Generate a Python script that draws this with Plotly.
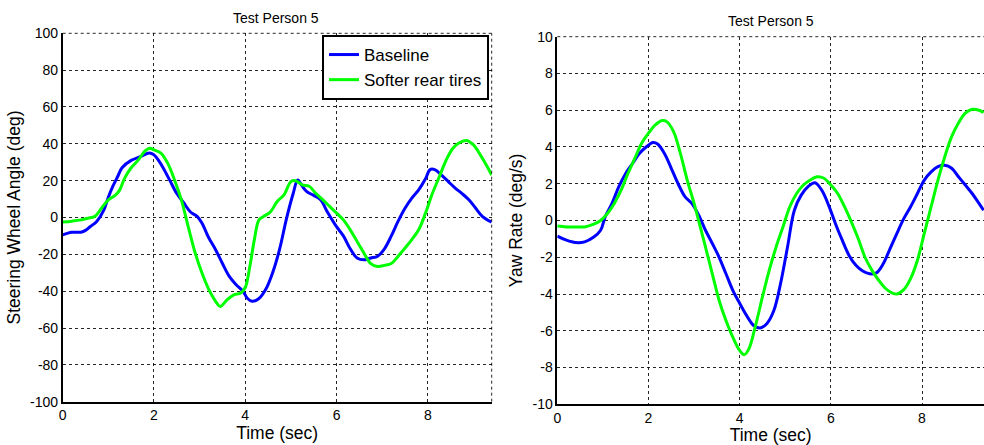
import plotly.graph_objects as go

# ---- data ----
t_sw_base = [0, 0.2, 0.4, 0.5, 0.6, 0.75, 0.9, 1.0, 1.1, 1.2, 1.3, 1.5, 1.7, 1.9, 2.0, 2.1, 2.2, 2.35, 2.5, 2.65,
             2.8, 2.95, 3.05, 3.2, 3.35, 3.5, 3.65, 3.8, 3.95, 4.05, 4.15, 4.3, 4.45, 4.6, 4.75, 4.9, 5.05, 5.15,
             5.25, 5.35, 5.5, 5.65, 5.8, 6.0, 6.15, 6.3, 6.45, 6.6, 6.75, 6.9, 7.05, 7.2, 7.35, 7.5, 7.65, 7.8,
             7.95, 8.05, 8.15, 8.3, 8.45, 8.6, 8.75, 8.9, 9.05, 9.2, 9.4]
sw_base = [-9.4, -8, -8, -7, -5, -2, 4, 11, 17, 22, 27, 31, 33, 35, 34, 31, 27, 20, 13, 8,
           3, 0.5, -3, -11, -17.5, -25, -32, -36.5, -40, -44, -45.5, -44, -39, -30, -17.5, -1, 13, 20.4,
           17, 14, 12, 9.6, 3, -5, -10, -17, -22, -23, -22, -21, -17, -10, -2, 5, 10.5, 15,
           21, 26, 26, 23, 19.5, 16, 13, 9.6, 5, 0.5, -2.5]

t_sw_soft = [0, 0.2, 0.4, 0.55, 0.7, 0.85, 1.0, 1.15, 1.25, 1.35, 1.5, 1.65, 1.8, 1.9, 2.0, 2.15, 2.3, 2.45,
             2.6, 2.75, 2.9, 3.05, 3.2, 3.35, 3.45, 3.6, 3.75, 3.9, 4.0, 4.1, 4.2, 4.3, 4.4, 4.55, 4.7, 4.85,
             5.0, 5.1, 5.25, 5.4, 5.55, 5.7, 5.85, 6.0, 6.15, 6.3, 6.45, 6.6, 6.75, 6.9, 7.05, 7.2, 7.35,
             7.5, 7.65, 7.8, 7.95, 8.1, 8.25, 8.4, 8.55, 8.7, 8.85, 9.0, 9.15, 9.3, 9.4]
sw_soft = [-2.5, -2, -1.3, -0.4, 0.5, 5, 9.6, 12, 15, 21, 27, 31, 36, 37.6, 36.7, 35, 29.5, 20.4,
           9.6, -5, -19, -30, -39, -45.5, -48.3, -44.7, -42, -41, -38, -26.6, -12, -1.3, 0.5, 3, 8.7, 12.3,
           19.5, 20, 17.7, 17, 13, 9.6, 6, 2.4, -1.3, -6.7, -13, -19.3, -25, -26.6, -26, -25, -21,
           -16.6, -12, -6.7, 2.4, 13, 22, 31, 37.6, 40.7, 41.8, 39.4, 34, 27.7, 23]

t_yr_base = [0, 0.2, 0.4, 0.6, 0.8, 0.95, 1.05, 1.2, 1.35, 1.5, 1.65, 1.8, 1.95, 2.1, 2.2, 2.35, 2.5, 2.65,
             2.8, 2.95, 3.1, 3.25, 3.4, 3.55, 3.7, 3.85, 4.0, 4.15, 4.3, 4.45, 4.6, 4.75, 4.9, 5.05, 5.2,
             5.35, 5.5, 5.65, 5.8, 5.95, 6.1, 6.25, 6.4, 6.55, 6.7, 6.85, 7.0, 7.15, 7.3, 7.45, 7.6, 7.75,
             7.9, 8.05, 8.2, 8.35, 8.5, 8.65, 8.8, 8.95, 9.1, 9.25, 9.35]
yr_base = [-0.85, -1.07, -1.2, -1.16, -0.9, -0.53, 0.2, 0.93, 1.84, 2.56, 3.1, 3.65, 4.0, 4.24, 4.16, 3.65,
           2.84, 2.0, 1.3, 0.93, 0.3, -0.53, -1.25, -2.0, -2.9, -3.8, -4.5, -5.16, -5.7, -5.85, -5.6, -4.9,
           -3.4, -1.44, 0.56, 1.38, 1.84, 2.05, 1.65, 0.84, -0.16, -1.07, -1.9, -2.44, -2.75, -2.9, -2.85,
           -2.35, -1.53, -0.7, 0.1, 0.75, 1.47, 2.2, 2.65, 2.93, 3.0, 2.84, 2.38, 1.93, 1.47, 0.93, 0.56]

t_yr_soft = [0, 0.2, 0.4, 0.6, 0.8, 0.95, 1.1, 1.25, 1.4, 1.55, 1.7, 1.85, 2.0, 2.15, 2.3, 2.4, 2.55, 2.7,
             2.85, 3.0, 3.1, 3.25, 3.4, 3.55, 3.7, 3.85, 4.0, 4.1, 4.2, 4.35, 4.5, 4.65, 4.8, 4.95, 5.1, 5.25,
             5.4, 5.55, 5.7, 5.85, 6.0, 6.15, 6.3, 6.45, 6.6, 6.75, 6.9, 7.05, 7.2, 7.35, 7.45, 7.6, 7.75,
             7.9, 8.05, 8.2, 8.35, 8.5, 8.65, 8.8, 8.95, 9.1, 9.25, 9.35]
yr_soft = [-0.3, -0.35, -0.35, -0.35, -0.2, 0, 0.38, 0.93, 1.65, 2.56, 3.38, 4.2, 4.75, 5.2, 5.44, 5.38,
           4.84, 3.65, 2.2, 0.93, 0, -1.44, -2.9, -4.35, -5.44, -6.35, -7.07, -7.3, -7.0, -5.7, -4.16, -2.7,
           -1.44, -0.35, 0.75, 1.47, 1.93, 2.2, 2.38, 2.3, 1.93, 1.47, 0.75, -0.07, -0.98, -2.0, -2.7, -3.25,
           -3.7, -3.95, -4.0, -3.76, -3.16, -2.16, -0.7, 0.75, 2.2, 3.47, 4.56, 5.3, 5.84, 6.05, 6.0, 5.87]

x_ticks = [0, 2, 4, 6, 8]
sw_ticks = [-100, -80, -60, -40, -20, 0, 20, 40, 60, 80, 100]
yr_ticks = [-10, -8, -6, -4, -2, 0, 2, 4, 6, 8, 10]
series_names = ["Baseline", "Softer rear tires"]
panel_title = "Test Person 5"

FONT = "Liberation Sans, Arial, sans-serif"
BLUE = "#0000ff"
GREEN = "#00ff00"
W, H = 984, 445
GRIDC = "rgba(0,0,0,0.85)"

fig = go.Figure()
fig.add_trace(go.Scatter(x=t_sw_base, y=sw_base, mode="lines", name=series_names[0],
                         line=dict(color=BLUE, width=3, shape="spline"), xaxis="x", yaxis="y"))
fig.add_trace(go.Scatter(x=t_sw_soft, y=sw_soft, mode="lines", name=series_names[1],
                         line=dict(color=GREEN, width=3, shape="spline"), xaxis="x", yaxis="y"))
fig.add_trace(go.Scatter(x=t_yr_base, y=yr_base, mode="lines", name=series_names[0], showlegend=False,
                         line=dict(color=BLUE, width=3, shape="spline"), xaxis="x2", yaxis="y2"))
fig.add_trace(go.Scatter(x=t_yr_soft, y=yr_soft, mode="lines", name=series_names[1], showlegend=False,
                         line=dict(color=GREEN, width=3, shape="spline"), xaxis="x2", yaxis="y2"))

grid = dict(showgrid=True, gridcolor=GRIDC, griddash="dot", gridwidth=1,
            zeroline=False, showline=True, linecolor="black", linewidth=1.5, automargin=False,
            ticks="", tickfont=dict(family=FONT, size=14, color="black"))


def labels(vals):
    return [str(v) for v in vals]


fig.update_layout(
    width=W, height=H,
    margin=dict(l=0, r=0, t=0, b=0),
    paper_bgcolor="white", plot_bgcolor="white",
    font=dict(family=FONT, color="black"),
    showlegend=True,
    legend=dict(x=489 / W, y=1 - 35 / H, xanchor="right", yanchor="top",
                bgcolor="white", bordercolor="black", borderwidth=2,
                font=dict(family=FONT, size=17, color="black"), tracegroupgap=0),
    xaxis=dict(domain=[62.7 / W, 491.7 / W], range=[0, 9.4], tickvals=x_ticks, ticktext=labels(x_ticks),
               anchor="y", title=dict(text="Time (sec)", font=dict(size=17.5), standoff=2), **grid),
    yaxis=dict(domain=[1 - 401.7 / H, 1 - 33.3 / H], range=[-100, 100], tickvals=sw_ticks,
               ticktext=labels(sw_ticks), anchor="x",
               title=dict(text="Steering Wheel Angle (deg)", font=dict(size=17.5), standoff=5), **grid),
    xaxis2=dict(domain=[557.3 / W, 1.0], range=[0, 9.36], tickvals=x_ticks, ticktext=labels(x_ticks),
                anchor="y2", title=dict(text="Time (sec)", font=dict(size=17.5), standoff=2), **grid),
    yaxis2=dict(domain=[1 - 404.3 / H, 1 - 36.7 / H], range=[-10, 10], tickvals=yr_ticks,
                ticktext=labels(yr_ticks), anchor="x2",
                title=dict(text="Yaw Rate (deg/s)", font=dict(size=17.5), standoff=5), **grid),
    annotations=[
        dict(text=panel_title, x=276 / W, y=1 - 18 / H, xref="paper", yref="paper",
             showarrow=False, font=dict(size=14, family=FONT, color="black"), xanchor="center", yanchor="middle"),
        dict(text=panel_title, x=770.7 / W, y=1 - 21 / H, xref="paper", yref="paper",
             showarrow=False, font=dict(size=14, family=FONT, color="black"), xanchor="center", yanchor="middle"),
    ],
    shapes=[
        dict(type="line", xref="x domain", yref="y domain", x0=1, x1=1, y0=0, y1=1,
             line=dict(color=GRIDC, width=1, dash="dot")),
        dict(type="line", xref="x domain", yref="y domain", x0=0, x1=1, y0=1, y1=1,
             line=dict(color=GRIDC, width=1, dash="dot")),
        dict(type="line", xref="x2 domain", yref="y2 domain", x0=0, x1=1, y0=1, y1=1,
             line=dict(color=GRIDC, width=1, dash="dot")),
    ],
)

fig.write_html("out.html")
